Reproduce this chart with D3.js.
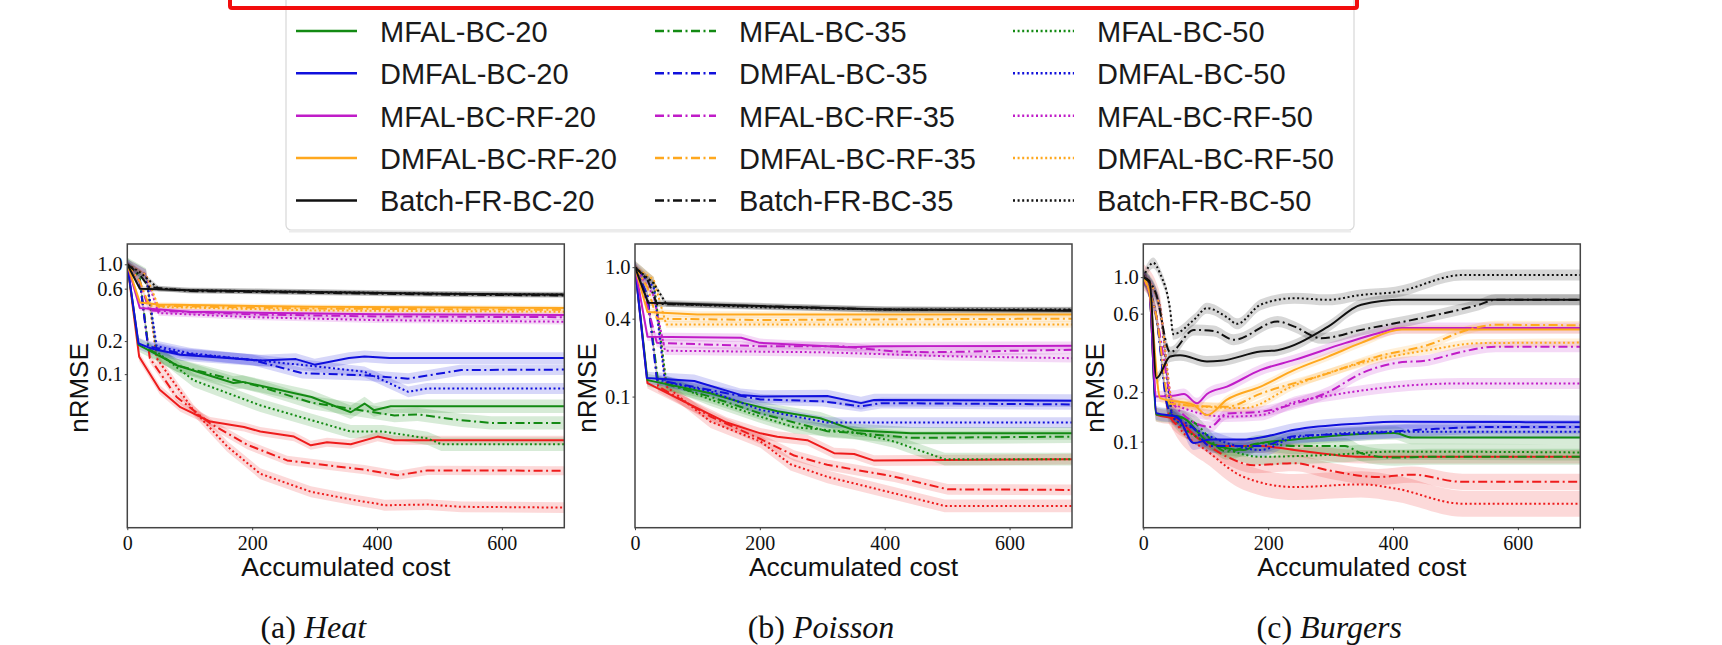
<!DOCTYPE html>
<html><head><meta charset="utf-8">
<script src="https://cdn.jsdelivr.net/npm/d3@7"></script>
<style>body{margin:0;background:#fff;} svg{display:block;}</style>
</head><body>
<svg id="c" width="1722" height="645"></svg>
<script>
// ---------- data ----------
const methods = ["BMFAL-BC", "MFAL-BC", "DMFAL-BC", "MFAL-BC-RF", "DMFAL-BC-RF", "Batch-FR-BC"]; // first row is hidden under the red box
const budgets = ["20", "35", "50"];
const panelTitles = ["Heat", "Poisson", "Burgers"];
const panelLetters = ["(a) ", "(b) ", "(c) "];
const xTicks = [0, 200, 400, 600];
const xDomain = [0, 700];
const heatYTicks = [1.0, 0.6, 0.2, 0.1];
const poissonYTicks = [1.0, 0.4, 0.1];
const burgersYTicks = [1.0, 0.6, 0.2, 0.1];
const heatYDomain = [0.004, 1.53];
const poissonYDomain = [0.0097, 1.51];
const burgersYDomain = [0.030, 1.59];

// [accumulated cost, nRMSE] per method (rows) and budget (20, 35, 50)
const heatData = [
  [ [[0,1.0],[19,0.144],[52,0.072],[85,0.05],[133,0.037],[187,0.033],[213,0.030],[267,0.027],[294,0.0225],[320,0.024],[358,0.023],[401,0.027],[428,0.025],[700,0.025]],
    [[0,1.0],[20,0.7],[36,0.14],[79,0.062],[133,0.0355],[192,0.0228],[256,0.0164],[320,0.0148],[380,0.0135],[433,0.012],[481,0.0133],[700,0.0132]],
    [[0,1.0],[30,0.8],[47,0.14],[106,0.047],[160,0.022],[213,0.0124],[294,0.0085],[360,0.0072],[401,0.0066],[412,0.0064],[481,0.0065],[535,0.0062],[700,0.0061]] ],
  [ [[0,1.0],[18,0.185],[80,0.12],[170,0.083],[185,0.085],[295,0.062],[358,0.045],[380,0.054],[395,0.047],[422,0.051],[700,0.051]],
    [[0,1.0],[20,0.75],[34,0.17],[80,0.12],[213,0.077],[295,0.055],[428,0.042],[465,0.043],[535,0.038],[583,0.036],[700,0.036]],
    [[0,1.0],[30,0.8],[47,0.16],[106,0.088],[213,0.052],[358,0.030],[410,0.030],[481,0.026],[503,0.023],[700,0.023]] ],
  [ [[0,1.0],[18,0.19],[40,0.17],[85,0.15],[160,0.14],[215,0.133],[270,0.137],[300,0.122],[355,0.14],[380,0.145],[420,0.14],[700,0.14]],
    [[0,1.0],[20,0.7],[33,0.18],[85,0.155],[200,0.135],[280,0.102],[375,0.098],[450,0.091],[535,0.109],[700,0.11]],
    [[0,1.0],[30,0.8],[47,0.18],[100,0.155],[200,0.135],[300,0.118],[380,0.105],[450,0.069],[480,0.074],[700,0.074]] ],
  [ [[0,1.0],[20,0.40],[100,0.37],[400,0.35],[700,0.345]],
    [[0,1.0],[20,0.7],[35,0.38],[200,0.35],[400,0.335],[700,0.33]],
    [[0,1.0],[30,0.8],[50,0.36],[200,0.33],[400,0.31],[700,0.30]] ],
  [ [[0,1.0],[20,0.45],[50,0.43],[300,0.41],[700,0.40]],
    [[0,1.0],[20,0.7],[35,0.42],[300,0.395],[700,0.385]],
    [[0,1.0],[30,0.8],[50,0.41],[300,0.38],[700,0.37]] ],
  [ [[0,1.0],[20,0.6],[100,0.58],[300,0.56],[500,0.54],[700,0.53]],
    [[0,1.0],[20,0.8],[35,0.62],[100,0.57],[300,0.55],[500,0.53],[700,0.52]],
    [[0,1.0],[20,0.85],[50,0.6],[100,0.58],[300,0.56],[500,0.54],[700,0.53]] ]
];
const poissonData = [
  [ [[0,1.0],[20,0.127],[94,0.084],[147,0.063],[201,0.052],[228,0.049],[276,0.046],[319,0.0365],[351,0.036],[383,0.032],[700,0.0328]],
    [[0,1.0],[20,0.6],[37,0.12],[121,0.070],[201,0.047],[255,0.035],[308,0.0297],[415,0.0241],[501,0.0192],[700,0.019]],
    [[0,1.0],[30,0.75],[50,0.12],[121,0.064],[201,0.045],[249,0.030],[308,0.024],[415,0.0179],[496,0.0143],[700,0.0143]] ],
  [ [[0,1.0],[20,0.134],[121,0.106],[174,0.089],[228,0.077],[297,0.068],[351,0.055],[442,0.052],[700,0.052]],
    [[0,1.0],[20,0.6],[37,0.13],[120,0.1],[201,0.074],[308,0.054],[360,0.052],[442,0.048],[700,0.049]],
    [[0,1.0],[30,0.75],[50,0.13],[120,0.095],[201,0.07],[255,0.058],[350,0.053],[415,0.045],[496,0.0328],[700,0.0328]] ],
  [ [[0,1.0],[19,0.139],[95,0.132],[169,0.103],[201,0.1],[308,0.101],[362,0.089],[383,0.094],[700,0.093]],
    [[0,1.0],[20,0.6],[35,0.135],[147,0.106],[201,0.095],[300,0.092],[362,0.084],[394,0.089],[700,0.087]],
    [[0,1.0],[30,0.7],[48,0.13],[120,0.11],[201,0.079],[308,0.063],[700,0.063]] ],
  [ [[0,1.0],[20,0.29],[170,0.285],[200,0.26],[340,0.24],[394,0.245],[700,0.247]],
    [[0,1.0],[20,0.5],[35,0.26],[200,0.245],[330,0.245],[415,0.223],[470,0.22],[700,0.23]],
    [[0,1.0],[30,0.6],[48,0.226],[300,0.22],[500,0.205],[700,0.198]] ],
  [ [[0,1.0],[20,0.45],[100,0.43],[400,0.43],[700,0.43]],
    [[0,1.0],[20,0.7],[35,0.40],[200,0.39],[400,0.395],[700,0.40]],
    [[0,1.0],[30,0.8],[50,0.36],[200,0.36],[400,0.36],[700,0.36]] ],
  [ [[0,1.0],[21,0.53],[200,0.5],[400,0.47],[700,0.46]],
    [[0,1.0],[20,0.8],[35,0.52],[200,0.5],[400,0.47],[700,0.465]],
    [[0,1.0],[30,0.75],[50,0.52],[200,0.49],[400,0.47],[700,0.47]] ]
];
const burgersData = [
  [ [[0,1.0],[10,0.8],[21,0.146],[54,0.137],[91,0.103],[134,0.094],[188,0.094],[242,0.089],[349,0.081],[700,0.081]],
    [[0,1.0],[20,0.6],[43,0.14],[81,0.11],[134,0.081],[177,0.072],[242,0.074],[296,0.067],[376,0.061],[430,0.063],[511,0.057],[700,0.057]],
    [[0,1.0],[25,0.7],[48,0.14],[107,0.085],[161,0.061],[242,0.053],[349,0.055],[403,0.052],[511,0.042],[700,0.042]] ],
  [ [[0,1.0],[10,0.8],[21,0.146],[59,0.142],[107,0.098],[161,0.089],[188,0.098],[242,0.103],[296,0.108],[403,0.113],[430,0.106],[700,0.106]],
    [[0,1.0],[20,0.6],[43,0.149],[81,0.131],[134,0.087],[188,0.098],[242,0.094],[323,0.094],[349,0.085],[403,0.08],[457,0.081],[700,0.081]],
    [[0,1.0],[25,0.7],[48,0.14],[134,0.09],[188,0.081],[296,0.083],[403,0.087],[700,0.086]] ],
  [ [[0,1.0],[10,0.8],[21,0.149],[54,0.142],[81,0.098],[107,0.103],[161,0.103],[188,0.106],[242,0.118],[349,0.129],[403,0.132],[700,0.131]],
    [[0,1.0],[20,0.6],[40,0.16],[81,0.12],[107,0.094],[188,0.094],[242,0.108],[349,0.112],[457,0.119],[564,0.123],[700,0.123]],
    [[0,1.0],[25,0.7],[48,0.14],[81,0.12],[134,0.098],[188,0.089],[242,0.106],[403,0.115],[700,0.115]] ],
  [ [[0,1.0],[10,0.8],[21,0.188],[48,0.19],[65,0.195],[86,0.171],[102,0.195],[134,0.216],[188,0.273],[242,0.314],[323,0.397],[376,0.456],[414,0.49],[700,0.49]],
    [[0,1.0],[20,0.6],[48,0.17],[107,0.123],[134,0.148],[188,0.152],[242,0.17],[296,0.2],[349,0.26],[403,0.3],[457,0.313],[511,0.352],[564,0.378],[700,0.378]],
    [[0,1.0],[25,0.7],[48,0.17],[134,0.142],[188,0.145],[242,0.174],[296,0.19],[403,0.216],[511,0.226],[700,0.226]] ],
  [ [[0,1.0],[10,0.8],[27,0.184],[81,0.167],[102,0.145],[134,0.18],[188,0.216],[242,0.273],[296,0.329],[350,0.40],[414,0.48],[700,0.48]],
    [[0,1.0],[20,0.6],[43,0.17],[134,0.163],[188,0.196],[296,0.26],[376,0.33],[457,0.388],[521,0.48],[564,0.513],[700,0.51]],
    [[0,1.0],[25,0.7],[48,0.17],[161,0.16],[242,0.22],[349,0.3],[457,0.36],[538,0.397],[700,0.40]] ],
  [ [[0,1.0],[10,0.95],[21,0.243],[43,0.329],[59,0.335],[102,0.307],[124,0.31],[188,0.353],[215,0.36],[296,0.5],[349,0.68],[414,0.728],[700,0.728]],
    [[0,1.0],[20,0.8],[43,0.35],[81,0.478],[113,0.47],[145,0.416],[215,0.537],[242,0.5],[285,0.425],[349,0.478],[457,0.576],[538,0.68],[564,0.728],[700,0.728]],
    [[0,1.0],[16,1.22],[27,1.05],[43,0.633],[48,0.45],[81,0.55],[102,0.648],[134,0.57],[150,0.52],[188,0.68],[242,0.745],[296,0.728],[349,0.78],[403,0.81],[511,1.03],[700,1.03]] ]
];
// multiplicative half-width of the shaded bands
const heatSpread = [[1.1,1.1,1.12],[1.15,1.15,1.15],[1.13,1.12,1.12],[1.06,1.06,1.06],[1.05,1.05,1.05],[1.05,1.05,1.06]];
const poissonSpread = [[1.1,1.1,1.12],[1.12,1.12,1.12],[1.12,1.1,1.1],[1.08,1.08,1.08],[1.06,1.06,1.06],[1.06,1.05,1.05]];
const burgersSpread = [[1.1,1.12,1.2],[1.1,1.12,1.12],[1.1,1.1,1.1],[1.08,1.08,1.08],[1.06,1.06,1.06],[1.08,1.08,1.08]];

// ---------- styles ----------
const colors = ["#ee1c1c", "#138a13", "#1010dc", "#c01cc8", "#ffa81e", "#111111"];
const dashes = [null, "9,3.5,2,3.5", "2,2.6"];
const SANS = "'Liberation Sans', Arial, sans-serif";
const SERIF = "'Liberation Serif', 'Times New Roman', serif";

const svg = d3.select("#c");

// ---------- legend ----------
const legG = svg.append("g");
legG.append("rect").attr("x", 286).attr("y", -30).attr("width", 1068).attr("height", 260)
  .attr("rx", 5).attr("fill", "#fff").attr("stroke", "#d8d8d8").attr("stroke-width", 1.2);
legG.append("line").attr("x1", 289).attr("x2", 1351).attr("y1", 231.5).attr("y2", 231.5)
  .attr("stroke", "#ececec").attr("stroke-width", 2);
const colLineX = [296, 655, 1013];
const colTextX = [380, 739, 1097];
methods.forEach((m, mi) => {
  if (mi === 0) return; // row hidden above the view
  const base = 41.7 + (mi - 1) * 42.4;
  budgets.forEach((b, bi) => {
    legG.append("line").attr("x1", colLineX[bi]).attr("x2", colLineX[bi] + 61)
      .attr("y1", base - 10.8).attr("y2", base - 10.8)
      .attr("stroke", colors[mi]).attr("stroke-width", 2.5)
      .attr("stroke-dasharray", dashes[bi]);
    legG.append("text").attr("x", colTextX[bi]).attr("y", base)
      .attr("font-family", SANS).attr("font-size", 29).attr("fill", "#1a1a1a")
      .text(m + "-" + b);
  });
});
svg.append("rect").attr("x", 230).attr("y", -40).attr("width", 1127).attr("height", 48)
  .attr("rx", 2).attr("fill", "none").attr("stroke", "#f20d0d").attr("stroke-width", 4);

// ---------- panels ----------
const panels = [
  {data: heatData, spread: heatSpread, yDomain: heatYDomain, yTicks: heatYTicks, left: 127.3, curve: d3.curveLinear},
  {data: poissonData, spread: poissonSpread, yDomain: poissonYDomain, yTicks: poissonYTicks, left: 635, curve: d3.curveLinear},
  {data: burgersData, spread: burgersSpread, yDomain: burgersYDomain, yTicks: burgersYTicks, left: 1143.3, curve: d3.curveMonotoneX}
];
const TOP = 244, W = 437, H = 283.7;

panels.forEach((p, pi) => {
  const g = svg.append("g").attr("transform", `translate(${p.left},${TOP})`);
  const x = d3.scaleLinear().domain(xDomain).range([0, W]);
  const y = d3.scaleLog().domain(p.yDomain).range([H, 0]);

  svg.append("defs").append("clipPath").attr("id", "clip" + pi)
    .append("rect").attr("width", W).attr("height", H);
  const plot = g.append("g").attr("clip-path", `url(#clip${pi})`);

  const line = d3.line().x(d => x(d[0])).y(d => y(d[1])).curve(p.curve);
  methods.forEach((m, mi) => budgets.forEach((b, bi) => {
    const s = p.spread[mi][bi];
    const area = d3.area().x(d => x(d[0])).y0(d => y(d[1] / s)).y1(d => y(d[1] * s)).curve(p.curve);
    plot.append("path").datum(p.data[mi][bi]).attr("d", area)
      .attr("fill", colors[mi]).attr("fill-opacity", 0.17);
  }));
  methods.forEach((m, mi) => budgets.forEach((b, bi) => {
    plot.append("path").datum(p.data[mi][bi]).attr("d", line)
      .attr("fill", "none").attr("stroke", colors[mi]).attr("stroke-width", 2)
      .attr("stroke-linejoin", "round")
      .attr("stroke-dasharray", dashes[bi]);
  }));

  // frame
  g.append("rect").attr("width", W).attr("height", H).attr("fill", "none")
    .attr("stroke", "#444").attr("stroke-width", 1.5);

  // axes
  const xa = g.append("g").attr("transform", `translate(0,${H})`)
    .call(d3.axisBottom(x).tickValues(xTicks).tickSize(2.5).tickPadding(5.5).tickFormat(d3.format("d")));
  xa.select(".domain").remove();
  xa.selectAll("line").attr("stroke", "#444");
  xa.selectAll("text").attr("font-family", SERIF).attr("font-size", 20).attr("fill", "#111");

  const ya = g.append("g")
    .call(d3.axisLeft(y).tickValues(p.yTicks).tickSize(2.5).tickPadding(2).tickFormat(d3.format(".1f")));
  ya.select(".domain").remove();
  ya.selectAll("line").attr("stroke", "#444");
  ya.selectAll("text").attr("font-family", SERIF).attr("font-size", 20.5).attr("fill", "#111");

  g.append("text").attr("transform", `translate(-48.5,${388 - TOP}) rotate(-90)`)
    .attr("text-anchor", "middle").attr("dominant-baseline", "central")
    .attr("font-family", SANS).attr("font-size", 26).attr("fill", "#111").text("nRMSE");
  g.append("text").attr("x", W / 2).attr("y", 576 - TOP).attr("text-anchor", "middle")
    .attr("font-family", SANS).attr("font-size", 26.5).attr("fill", "#111").text("Accumulated cost");

  const cap = g.append("text").attr("x", W / 2 - 32.5).attr("y", 637.5 - TOP).attr("text-anchor", "middle")
    .attr("font-family", SERIF).attr("font-size", 32).attr("fill", "#111");
  cap.append("tspan").text(panelLetters[pi]);
  cap.append("tspan").attr("font-style", "italic").text(panelTitles[pi]);
});
</script>
</body></html>
